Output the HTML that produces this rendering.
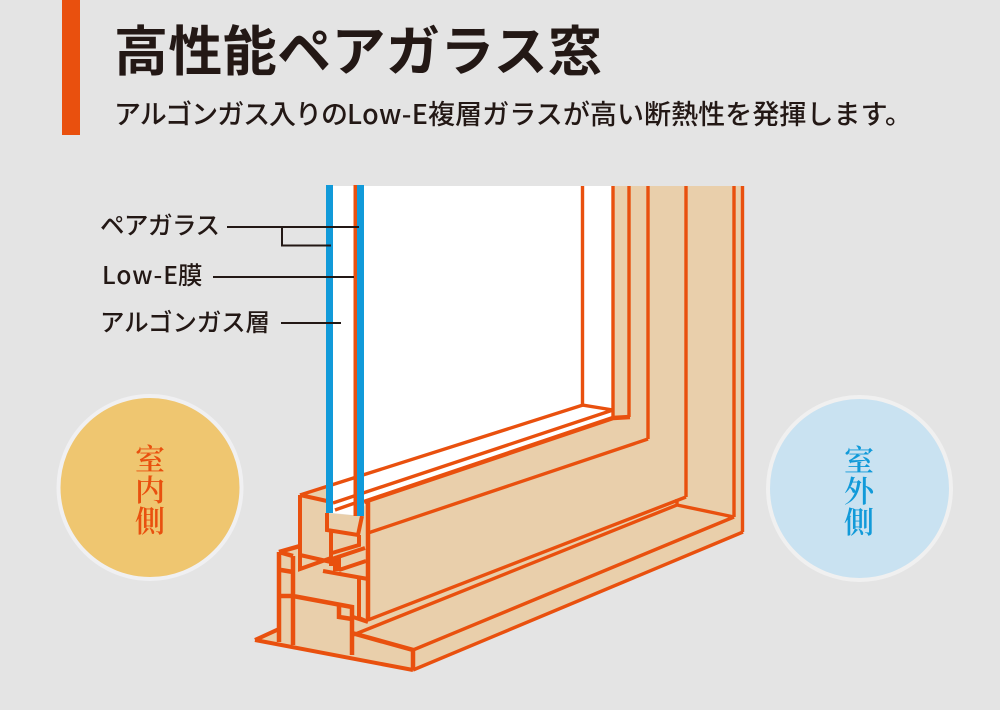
<!DOCTYPE html>
<html><head><meta charset="utf-8"><style>
html,body{margin:0;padding:0;background:#e4e4e4}
svg{display:block}
.j{font-family:"Noto Sans CJK JP","Liberation Sans",sans-serif}
.m{font-family:"Noto Serif CJK SC","Liberation Serif",serif}
</style></head><body>
<svg xmlns="http://www.w3.org/2000/svg" width="1000" height="710" viewBox="0 0 1000 710">
<rect width="1000" height="710" fill="#e4e4e4"/>
<rect x="62" y="0" width="18" height="135" fill="#e9500e"/>
<text class="j" x="114" y="70.500" font-size="54" font-weight="700" fill="#231815" textLength="488">高性能ペアガラス窓</text>
<g class="j" font-size="27" font-weight="500" fill="#231815">
<text x="114" y="124" textLength="234">アルゴンガス入りの</text>
<text x="347" y="124" textLength="81">Low-E</text>
<text x="428" y="124" textLength="484">複層ガラスが高い断熱性を発揮します。</text>
</g>

<circle cx="150" cy="487.5" r="91.5" fill="#efc670" stroke="#f0f0f2" stroke-width="4"/>
<circle cx="859.500" cy="488.500" r="91.5" fill="#c9e2f1" stroke="#f0f0f0" stroke-width="4"/>
<g class="m" font-size="30" text-anchor="middle" font-weight="600">
<g fill="#e9500e"><text x="150" y="470">室</text><text x="150" y="501">内</text><text x="150" y="532">側</text></g>
<g fill="#119ad9"><text x="859" y="471">室</text><text x="859" y="502">外</text><text x="859" y="533">側</text></g>
</g>

<!-- tan body -->
<polygon fill="#e9cfab" points="333,186 744,186 743,532 413,670 255,640 279,629 279,552 300,546 300,495 327,486 327,513 362,516 365,502 613,418 613,186"/>
<!-- white opening -->
<polygon fill="#ffffff" points="333,186 613,186 613,418 365,502 362,516 333,513"/>

<g fill="none" stroke="#e9500e" stroke-width="4" stroke-linejoin="miter" stroke-linecap="butt">
<!-- verticals upper right -->
<path stroke-width="3.400" d="M582.500,186V405L613,410M613,186V418M629,186V417M648,186V439M686,186V497M734,186V517M742.500,186V532"/>
<!-- sill lines -->
<path stroke-width="3.400" d="M300,495L583,405M333,503L613,410M335,510L355,503"/>
<path stroke-width="4.500" d="M364,502L613,418L630,417"/>
<path stroke-width="3.400" d="M368,533L648,439M368,620L686,497M353,635L677,505V499M677,505L734,517M413,650L734,517M413,670L743,532"/>
<!-- upper block -->
<path d="M300,495L327,501M300,495V569L331,558M300,555L331,562"/>
<path d="M327,513V530L358,535L362,516M331,532V566M359,535V545L332,553M365,548L335,558V571M339,570L366,561M339,558V571"/>
<path stroke-width="4.500" d="M368,500V621"/>
<path d="M323,571L368,579M359,578V618L368,622M353,617L368,622"/>
<!-- lower block -->
<path stroke-width="4.500" d="M279,552V642M293,556V645M279,552L300,546M279,552L293,556M281,570L293,572M281,596H293L352,607V655M339,605V617L352,619M352,633L413,650V670"/>
<path stroke-width="4" d="M255,640L413,670M255,640L279,629"/>
</g>
<!-- glass -->
<rect x="326" y="185" width="7" height="328" fill="#119ad9"/>
<rect x="353.500" y="185" width="3.500" height="331" fill="#e9500e"/>
<rect x="357" y="185" width="7" height="331" fill="#119ad9"/>

<!-- labels -->
<g stroke="#231815" stroke-width="2" fill="none">
<path d="M227,227H359M282,227V245.500H331M213,277H354M281,323H341"/>
</g>
<g class="j" font-size="24.500" font-weight="500" fill="#231815">
<text x="100" y="234" textLength="120">ペアガラス</text>
<text x="102" y="284" textLength="76">Low-E</text>
<text x="178" y="284">膜</text>
<text x="100" y="331" textLength="170">アルゴンガス層</text>
</g>
</svg>
</body></html>
